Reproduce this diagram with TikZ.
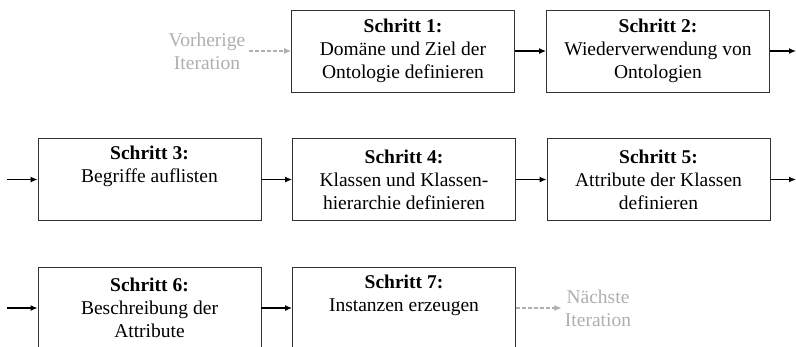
\documentclass[tikz,border=0pt]{standalone}
\usepackage{fontspec}
\setmainfont{Liberation Serif}
\usepackage{tikz}
\usetikzlibrary{shapes,arrows.meta,positioning,calc}
\definecolor{framecolor}{RGB}{50,50,50}
\definecolor{itercolor}{RGB}{175,175,175}

\begin{document}
\begin{tikzpicture}[x=1pt, y=-1pt,
  font=\fontsize{19.5}{23}\selectfont,
  stepbox/.style={rectangle, draw=framecolor, line width=0.9pt, minimum width=223pt, minimum height=82pt, align=center, inner sep=2pt},
  iternode/.style={align=center, text=itercolor},
  flow/.style={-{Latex[length=7pt,width=6pt]}, line width=1.2pt},
  iterflow/.style={-{Latex[length=7pt,width=6pt]}, dash pattern=on 4pt off 2pt, line width=1.1pt, draw=itercolor}
]
\useasboundingbox (0,0) rectangle (796,346);

% Row 1
\node[iternode] (prev) at (207,51) {Vorherige\\Iteration};
\node[stepbox] (s1) at (403,51) {\textbf{Schritt 1:}\\Domäne und Ziel der\\Ontologie definieren};
\node[stepbox] (s2) at (658,51) {\textbf{Schritt 2:}\\Wiederverwendung von\\Ontologien};
\coordinate (out1) at (796,51);

% Row 2
\coordinate (in2) at (7,179.5);
\node[stepbox] (s3) at (149.5,179.5) {\textbf{Schritt 3:}\\Begriffe auflisten\\\strut};
\node[stepbox] (s4) at (404,179.5) {\textbf{Schritt 4:}\\Klassen und Klassen-\\hierarchie definieren};
\node[stepbox] (s5) at (658.5,179.5) {\textbf{Schritt 5:}\\Attribute der Klassen\\definieren};
\coordinate (out2) at (796,179.5);

% Row 3
\coordinate (in3) at (7,308);
\node[stepbox] (s6) at (149.5,308) {\textbf{Schritt 6:}\\Beschreibung der\\Attribute};
\node[stepbox] (s7) at (404,308) {\textbf{Schritt 7:}\\Instanzen erzeugen\\\strut};
\node[iternode] (next) at (598,308) {Nächste\\Iteration};

% Connections
\draw[iterflow] (prev) -- (s1);
\draw[flow] (s1) -- (s2);
\draw[flow] (s2) -- (out1);
\draw[flow] (in2) -- (s3);
\draw[flow] (s3) -- (s4);
\draw[flow] (s4) -- (s5);
\draw[flow] (s5) -- (out2);
\draw[flow] (in3) -- (s6);
\draw[flow] (s6) -- (s7);
\draw[iterflow] (s7) -- (next);

\end{tikzpicture}
\end{document}
